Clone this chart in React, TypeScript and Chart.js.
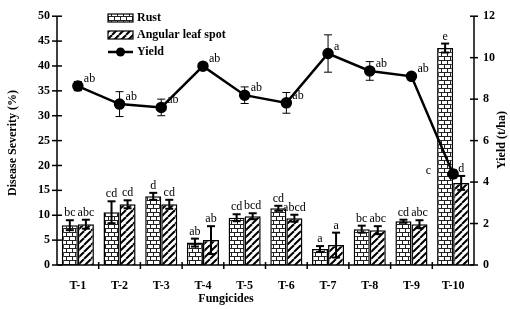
import React, { useEffect, useRef } from "react";
import { Chart, registerables } from "chart.js";
Chart.register(...registerables);

const categories = ["T-1", "T-2", "T-3", "T-4", "T-5", "T-6", "T-7", "T-8", "T-9", "T-10"];
const rust = [8.0, 10.6, 13.8, 4.5, 9.5, 11.4, 3.2, 7.2, 8.8, 43.6];
const rustErr = [1.0, 2.2, 0.7, 0.8, 0.7, 0.5, 0.6, 0.7, 0.3, 0.9];
const rustLetters = ["bc", "cd", "d", "ab", "cd", "cd", "a", "bc", "cd", "e"];
const leaf = [8.2, 12.2, 12.2, 5.0, 9.8, 9.4, 4.0, 7.0, 8.2, 16.5];
const leafErr = [0.9, 0.8, 0.9, 2.8, 0.6, 0.7, 2.5, 0.8, 0.8, 1.4];
const leafLetters = ["abc", "cd", "cd", "ab", "bcd", "abcd", "a", "abc", "abc", "d"];
const yieldVals = [8.63, 7.76, 7.6, 9.59, 8.19, 7.82, 10.2, 9.36, 9.1, 4.39];
const yieldErr = [0.22, 0.6, 0.4, 0.12, 0.4, 0.5, 0.9, 0.45, 0.05, 0.2];
const yieldLetters = ["ab", "ab", "ab", "ab", "ab", "ab", "a", "ab", "ab", "c"];

const SERIF = "'Liberation Serif', 'Times New Roman', serif";

function brickPattern(ctx: CanvasRenderingContext2D) {
  const c = document.createElement("canvas");
  c.width = 12;
  c.height = 8;
  const g = c.getContext("2d")!;
  g.fillStyle = "#fff";
  g.fillRect(0, 0, 12, 8);
  g.fillStyle = "#222";
  g.fillRect(0, 0, 12, 1);
  g.fillRect(0, 4, 12, 1);
  g.fillRect(0, 0, 1, 4);
  g.fillRect(6, 0, 1, 4);
  g.fillRect(3, 4, 1, 4);
  g.fillRect(9, 4, 1, 4);
  return ctx.createPattern(c, "repeat")!;
}

function hatchPattern(ctx: CanvasRenderingContext2D) {
  const s = 7;
  const c = document.createElement("canvas");
  c.width = s;
  c.height = s;
  const g = c.getContext("2d")!;
  g.fillStyle = "#fff";
  g.fillRect(0, 0, s, s);
  g.strokeStyle = "#000";
  g.lineWidth = 2;
  for (const x0 of [-s, 0, s]) {
    g.beginPath();
    g.moveTo(x0, s);
    g.lineTo(x0 + s, 0);
    g.stroke();
  }
  return ctx.createPattern(c, "repeat")!;
}

function line(ctx: CanvasRenderingContext2D, x1: number, y1: number, x2: number, y2: number) {
  ctx.beginPath();
  ctx.moveTo(x1, y1);
  ctx.lineTo(x2, y2);
  ctx.stroke();
}

const overlay = {
  id: "overlay",
  afterDatasetsDraw(chart: any) {
    const ctx: CanvasRenderingContext2D = chart.ctx;
    const yL = chart.scales.y;
    const yR = chart.scales.y1;
    ctx.save();
    ctx.strokeStyle = "#000";
    ctx.fillStyle = "#000";
    const groups: [number[], number[], string[], number][] = [
      [rust, rustErr, rustLetters, 0],
      [leaf, leafErr, leafLetters, 1],
    ];
    for (const [vals, errs, letters, di] of groups) {
      const meta = chart.getDatasetMeta(di);
      meta.data.forEach((el: any, i: number) => {
        const px = el.x;
        const t = yL.getPixelForValue(vals[i] + errs[i]);
        const b = yL.getPixelForValue(vals[i] - errs[i]);
        ctx.lineWidth = 2;
        line(ctx, px, t, px, b);
        line(ctx, px - 4, t, px + 4, t);
        line(ctx, px - 4, b, px + 4, b);
        ctx.font = "12px " + SERIF;
        ctx.textAlign = "center";
        ctx.textBaseline = "alphabetic";
        ctx.fillText(letters[i], px, t - 4);
      });
    }
    const lm = chart.getDatasetMeta(2);
    lm.data.forEach((el: any, i: number) => {
      const px = el.x;
      const t = yR.getPixelForValue(yieldVals[i] + yieldErr[i]);
      const b = yR.getPixelForValue(yieldVals[i] - yieldErr[i]);
      ctx.lineWidth = 1;
      line(ctx, px, t, px, b);
      line(ctx, px - 4, t, px + 4, t);
      line(ctx, px - 4, b, px + 4, b);
      ctx.font = "12px " + SERIF;
      ctx.textBaseline = "alphabetic";
      if (i === lm.data.length - 1) {
        ctx.textAlign = "right";
        ctx.fillText(yieldLetters[i], px - 22, el.y);
      } else {
        ctx.textAlign = "left";
        ctx.fillText(yieldLetters[i], px + 6, el.y - 4);
      }
    });
    ctx.restore();
  },
  afterDraw(chart: any) {
    const ctx: CanvasRenderingContext2D = chart.ctx;
    const { left, right, top, bottom } = chart.chartArea;
    const yL = chart.scales.y;
    const yR = chart.scales.y1;
    const x = chart.scales.x;
    ctx.save();
    ctx.strokeStyle = "#000";
    ctx.fillStyle = "#000";
    ctx.lineWidth = 1.5;
    line(ctx, left, top, left, bottom);
    line(ctx, right, top, right, bottom);
    line(ctx, left, bottom, right, bottom);
    ctx.lineWidth = 1.5;
    yL.ticks.forEach((t: any) => {
      const p = yL.getPixelForValue(t.value);
      line(ctx, left - 5, p, left + 5, p);
    });
    yR.ticks.forEach((t: any) => {
      const p = yR.getPixelForValue(t.value);
      line(ctx, right - 4, p, right + 4, p);
    });
    const n = categories.length;
    for (let i = 1; i < n; i++) {
      const p = (x.getPixelForValue(i - 1) + x.getPixelForValue(i)) / 2;
      line(ctx, p, bottom - 3, p, bottom + 4);
    }
    // titles
    ctx.font = "bold 12px " + SERIF;
    ctx.textAlign = "center";
    ctx.textBaseline = "middle";
    ctx.save();
    ctx.translate(13, 143);
    ctx.rotate(-Math.PI / 2);
    ctx.fillText("Disease Severity (%)", 0, 0);
    ctx.restore();
    ctx.save();
    ctx.translate(502, 140);
    ctx.rotate(-Math.PI / 2);
    ctx.fillText("Yield (t/ha)", 0, 0);
    ctx.restore();
    ctx.fillText("Fungicides", 226, 299);
    // legend
    const lx = 108;
    const lw = 25;
    const ys = [18, 35, 52];
    ctx.lineWidth = 1.2;
    ctx.fillStyle = brickPattern(ctx);
    ctx.fillRect(lx, ys[0] - 4, lw, 8);
    ctx.strokeRect(lx, ys[0] - 4, lw, 8);
    ctx.fillStyle = hatchPattern(ctx);
    ctx.fillRect(lx, ys[1] - 4, lw, 8);
    ctx.strokeRect(lx, ys[1] - 4, lw, 8);
    ctx.fillStyle = "#000";
    ctx.lineWidth = 2.5;
    line(ctx, lx, ys[2], lx + lw, ys[2]);
    ctx.beginPath();
    ctx.arc(lx + lw / 2, ys[2], 4.5, 0, Math.PI * 2);
    ctx.fill();
    ctx.font = "bold 12px " + SERIF;
    ctx.textAlign = "left";
    ctx.textBaseline = "middle";
    ctx.fillText("Rust", lx + lw + 4, ys[0]);
    ctx.fillText("Angular leaf spot", lx + lw + 4, ys[1]);
    ctx.fillText("Yield", lx + lw + 4, ys[2]);
    ctx.restore();
  },
};

export default function App() {
  const ref = useRef<HTMLCanvasElement>(null);
  useEffect(() => {
    const canvas = ref.current!;
    const ctx = canvas.getContext("2d")!;
    const tickFont = { family: SERIF, size: 12, weight: "bold" as const };
    const chart = new Chart(canvas, {
      type: "bar",
      data: {
        labels: categories,
        datasets: [
          {
            type: "bar",
            label: "Rust",
            data: rust,
            backgroundColor: brickPattern(ctx),
            borderColor: "#000",
            borderWidth: 1.5,
            yAxisID: "y",
            order: 1,
            categoryPercentage: 0.77,
            barPercentage: 1,
          },
          {
            type: "bar",
            label: "Angular leaf spot",
            data: leaf,
            backgroundColor: hatchPattern(ctx),
            borderColor: "#000",
            borderWidth: 1.5,
            yAxisID: "y",
            order: 1,
            categoryPercentage: 0.77,
            barPercentage: 1,
          },
          {
            type: "line",
            label: "Yield",
            data: yieldVals,
            borderColor: "#000",
            backgroundColor: "#000",
            borderWidth: 2.5,
            pointRadius: 4.5,
            pointBackgroundColor: "#000",
            pointBorderColor: "#000",
            tension: 0,
            yAxisID: "y1",
            order: 0,
          },
        ] as any,
      },
      options: {
        responsive: false,
        animation: false,
        layout: { padding: { top: 15, left: 0, right: 0, bottom: 0 } },
        plugins: { legend: { display: false }, tooltip: { enabled: false } },
        scales: {
          x: {
            type: "category",
            offset: true,
            grid: { display: false, drawTicks: false, offset: true },
            border: { display: false },
            ticks: { color: "#000", font: tickFont, padding: 14, maxRotation: 0 },
            afterFit: (s: any) => {
              s.height = 44;
            },
          },
          y: {
            position: "left",
            min: 0,
            max: 50,
            grid: { display: false, drawTicks: false },
            border: { display: false },
            ticks: { stepSize: 5, color: "#000", font: tickFont, padding: 7 },
            afterFit: (s: any) => {
              s.width = 57;
            },
          },
          y1: {
            position: "right",
            min: 0,
            max: 12,
            grid: { display: false, drawTicks: false },
            border: { display: false },
            ticks: { stepSize: 2, color: "#000", font: tickFont, padding: 9 },
            afterFit: (s: any) => {
              s.width = 36;
            },
          },
        },
      } as any,
      plugins: [overlay],
    });
    return () => chart.destroy();
  }, []);
  return (
    <div style={{ position: "absolute", left: 0, top: 0, width: 510, height: 309, background: "#fff" }}>
      <canvas ref={ref} width={510} height={309} style={{ display: "block" }} />
    </div>
  );
}
